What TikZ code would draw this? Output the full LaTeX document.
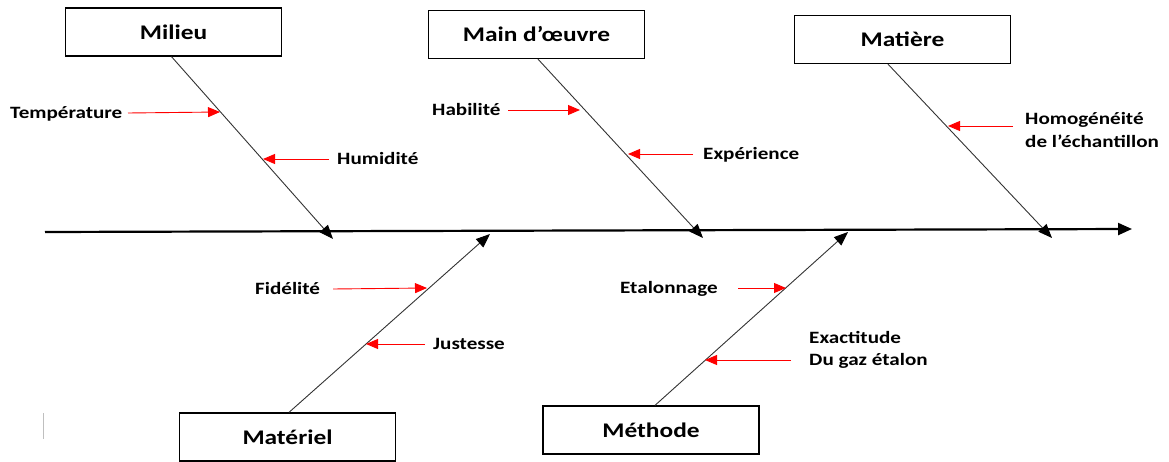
\documentclass[tikz,border=0pt]{standalone}
\usepackage{fontspec}
\setmainfont{Carlito}[FakeStretch=1.22]
\usetikzlibrary{arrows.meta}
\begin{document}
\begin{tikzpicture}[x=1pt,y=-1pt,
  cause/.style={draw=black,line width=1.3pt,minimum width=216pt,minimum height=48pt,
    inner sep=0pt,font=\bfseries\fontsize{20.8}{24}\selectfont},
  factor/.style={inner sep=0pt,align=left,font=\bfseries\fontsize{17.3}{22.5}\selectfont},
  bone/.style={draw=black!80,line width=0.9pt,-{Triangle[length=14pt,width=11pt,color=black]}},
  spine/.style={draw=black,line width=2.2pt,-{Triangle[length=14pt,width=12pt]}},
  hint/.style={draw=red,line width=0.9pt,-{Triangle[length=12pt,width=10pt]}}]
\useasboundingbox (0,0) rectangle (1169,462);

% main spine
\coordinate (sL) at (45,232);
\coordinate (sR) at (1132,229);
\draw[spine] (sL) -- (sR);

% cause boxes
\node[cause] (milieu)   at (173.5,32)  {Milieu};
\node[cause] (main)     at (536.5,34.5) {Main d’œuvre};
\node[cause] (matiere)  at (902.5,39.5) {Matière};
\node[cause] (materiel) at (287.5,437) {Matériel};
\node[cause] (methode)  at (651,430)   {Méthode};

% points where the bones meet the spine
\coordinate (tMil) at (333,239);
\coordinate (tMai) at (703,238);
\coordinate (tMat) at (1052,238);
\coordinate (tMtl) at (490,234);
\coordinate (tMet) at (848,232);

\draw[bone] ([xshift=-2pt]milieu.south) -- (tMil);
\draw[bone] ([xshift=1.5pt]main.south) -- (tMai);
\draw[bone] ([xshift=-14.5pt]matiere.south) -- (tMat);
\draw[bone] ([xshift=1.5pt]materiel.north) -- (tMtl);
\draw[bone] ([xshift=4pt]methode.north) -- (tMet);

% sub-causes (two-line labels are placed by the baseline of their last line)
\node[factor,anchor=base west] (temp) at (10,118.5) {Température};
\node[factor,anchor=base west] (humi) at (337,165) {Humidité};
\node[factor,anchor=base west] (habi) at (432,116) {Habilité};
\node[factor,anchor=base west] (expe) at (703,160) {Expérience};
\node[factor,anchor=base west] (homo) at (1025,147.5) {Homogénéité\\de l’échantillon};
\node[factor,anchor=base west] (fide) at (255,294) {Fidélité};
\node[factor,anchor=base west] (just) at (433,349) {Justesse};
\node[factor,anchor=base west] (etal) at (620,293) {Etalonnage};
\node[factor,anchor=base west] (exac) at (809,365.5) {Exactitude\\Du gaz étalon};

% red pointers onto the bones
\coordinate (aTemp0) at (128,113);  \coordinate (aTemp1) at (220,112);
\coordinate (aHumi0) at (329,159);  \coordinate (aHumi1) at (263,159);
\coordinate (aHabi0) at (508,110);  \coordinate (aHabi1) at (580,110);
\coordinate (aExpe0) at (693,154);  \coordinate (aExpe1) at (628,154);
\coordinate (aHomo0) at (1013,126); \coordinate (aHomo1) at (948,126);
\coordinate (aFide0) at (333,289);  \coordinate (aFide1) at (427,288);
\coordinate (aJust0) at (425,344);  \coordinate (aJust1) at (366,344);
\coordinate (aEtal0) at (738,288);  \coordinate (aEtal1) at (786,288);
\coordinate (aExac0) at (791,360);  \coordinate (aExac1) at (705,360);
\foreach \n in {Temp,Humi,Habi,Expe,Homo,Fide,Just,Etal,Exac}
  \draw[hint] (a\n0) -- (a\n1);

% faint vertical mark at the lower left
\coordinate (m0) at (43,413);
\coordinate (m1) at (43,439);
\draw[black!25,line width=0.8pt] (m0) -- (m1);
\end{tikzpicture}
\end{document}
